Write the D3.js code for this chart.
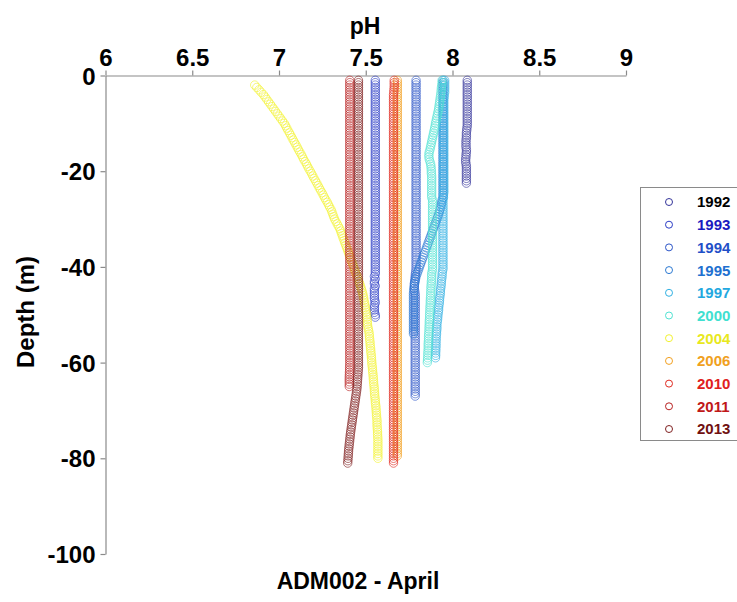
<!DOCTYPE html>
<html>
<head>
<meta charset="utf-8">
<script src="https://cdn.jsdelivr.net/npm/d3@7"></script>
<style>
  body { margin: 0; background: #fff; }
  text { font-family: Arial, "Liberation Sans", sans-serif; font-weight: bold; }
</style>
</head>
<body>
<script>
const w = 737
const h = 602

// depth bins (m), every half metre, shared by every profile
const depthGrid = [
  -1,-1.5,-2,-2.5,-3,-3.5,-4,-4.5,-5,-5.5,
  -6,-6.5,-7,-7.5,-8,-8.5,-9,-9.5,-10,-10.5,
  -11,-11.5,-12,-12.5,-13,-13.5,-14,-14.5,-15,-15.5,
  -16,-16.5,-17,-17.5,-18,-18.5,-19,-19.5,-20,-20.5,
  -21,-21.5,-22,-22.5,-23,-23.5,-24,-24.5,-25,-25.5,
  -26,-26.5,-27,-27.5,-28,-28.5,-29,-29.5,-30,-30.5,
  -31,-31.5,-32,-32.5,-33,-33.5,-34,-34.5,-35,-35.5,
  -36,-36.5,-37,-37.5,-38,-38.5,-39,-39.5,-40,-40.5,
  -41,-41.5,-42,-42.5,-43,-43.5,-44,-44.5,-45,-45.5,
  -46,-46.5,-47,-47.5,-48,-48.5,-49,-49.5,-50,-50.5,
  -51,-51.5,-52,-52.5,-53,-53.5,-54,-54.5,-55,-55.5,
  -56,-56.5,-57,-57.5,-58,-58.5,-59,-59.5,-60,-60.5,
  -61,-61.5,-62,-62.5,-63,-63.5,-64,-64.5,-65,-65.5,
  -66,-66.5,-67,-67.5,-68,-68.5,-69,-69.5,-70,-70.5,
  -71,-71.5,-72,-72.5,-73,-73.5,-74,-74.5,-75,-75.5,
  -76,-76.5,-77,-77.5,-78,-78.5,-79,-79.5,-80,-80.5,
  -81]

const years = ['1992','1993','1994','1995','1997','2000','2004','2006','2010','2011','2013']
const markerColors = ['#34349a','#2b3cc6','#2b55c8','#2a78d2','#30b0e2','#50e2d2','#f2f230','#f2a020','#e02a20','#b82020','#802020']
const textColors = ['#000000','#1a1ac0','#1f4fc8','#2070d0','#22a8e0','#40e0d0','#e8e820','#f0a020','#e02020','#c01818','#701010']

// pH per depth bin, one row = 5 m (null = no sample)
const ph1992 = [
  8.085,8.085,8.085,8.085,8.085,8.085,8.085,8.085,8.085,8.085,
  8.085,8.085,8.085,8.085,8.085,8.085,8.085,8.085,8.085,8.085,
  8.083,8.082,8.08,8.08,8.08,8.078,8.078,8.078,8.078,8.08,
  8.08,8.078,8.078,8.076,8.076,8.078,8.08,8.08,8.08,8.08,
  8.08,8.08,8.08,8.08]
const ph1993 = [
  7.555,7.555,7.555,7.555,7.555,7.555,7.555,7.555,7.555,7.555,
  7.555,7.555,7.555,7.555,7.555,7.555,7.555,7.555,7.555,7.555,
  7.555,7.555,7.555,7.555,7.555,7.555,7.555,7.555,7.555,7.555,
  7.555,7.555,7.555,7.555,7.555,7.555,7.555,7.555,7.555,7.555,
  7.555,7.555,7.555,7.555,7.555,7.555,7.555,7.555,7.555,7.555,
  7.555,7.555,7.555,7.555,7.555,7.555,7.555,7.555,7.555,7.555,
  7.555,7.555,7.555,7.555,7.555,7.555,7.555,7.555,7.555,7.555,
  7.555,7.555,7.555,7.555,7.555,7.555,7.555,7.555,7.555,7.555,
  7.555,7.555,7.55,7.555,7.55,7.55,7.555,7.55,7.55,7.55,
  7.55,7.55,7.552,7.555,7.55,7.55,7.55,7.55,7.555,7.555]
const ph1994 = [
  7.79,7.79,7.79,7.79,7.79,7.79,7.79,7.79,7.79,7.79,
  7.79,7.79,7.79,7.79,7.79,7.79,7.79,7.79,7.79,7.79,
  7.79,7.79,7.79,7.79,7.79,7.79,7.79,7.79,7.79,7.79,
  7.79,7.79,7.79,7.79,7.79,7.79,7.79,7.79,7.79,7.79,
  7.79,7.79,7.79,7.79,7.79,7.79,7.79,7.79,7.79,7.79,
  7.79,7.79,7.79,7.79,7.79,7.79,7.79,7.79,7.79,7.79,
  7.79,7.79,7.79,7.79,7.79,7.79,7.79,7.79,7.79,7.79,
  7.79,7.79,7.79,7.79,7.79,7.79,7.79,7.79,7.79,7.79,
  7.788,7.786,7.785,7.784,7.782,7.78,7.78,7.78,7.782,7.784,
  7.785,7.785,7.785,7.785,7.785,7.785,7.785,7.785,7.785,7.785,
  7.785,7.785,7.785,7.785,7.785,7.785,7.785,7.785,7.785,7.785,
  7.785,7.785,7.785,7.785,7.785,7.785,7.785,7.785,7.785,7.785,
  7.785,7.785,7.785,7.785,7.785,7.785,7.785,7.785,7.785,7.785,
  7.785,7.785,7.785]
const ph1995 = [
  7.945,7.945,7.945,7.945,7.945,7.945,7.945,7.945,7.945,7.945,
  7.945,7.945,7.945,7.945,7.945,7.945,7.945,7.945,7.945,7.945,
  7.945,7.945,7.945,7.945,7.945,7.945,7.945,7.945,7.945,7.945,
  7.945,7.945,7.945,7.945,7.945,7.945,7.945,7.945,7.945,7.945,
  7.945,7.945,7.945,7.945,7.945,7.945,7.945,7.945,7.945,7.945,
  7.94,7.938,7.935,7.932,7.928,7.924,7.92,7.915,7.91,7.905,
  7.9,7.895,7.89,7.885,7.88,7.875,7.87,7.865,7.86,7.855,
  7.85,7.845,7.84,7.835,7.83,7.825,7.82,7.815,7.81,7.805,
  7.8,7.795,7.79,7.787,7.785,7.782,7.78,7.778,7.776,7.775,
  7.775,7.775,7.775,7.775,7.775,7.775,7.775,7.775,7.775,7.775,
  7.775,7.775,7.775,7.775,7.775,7.775,7.775]
const ph1997 = [
  7.955,7.955,7.955,7.955,7.955,7.955,7.952,7.952,7.95,7.95,
  7.95,7.95,7.95,7.95,7.95,7.95,7.95,7.95,7.95,7.95,
  7.95,7.95,7.95,7.95,7.95,7.95,7.95,7.95,7.95,7.95,
  7.95,7.95,7.95,7.95,7.95,7.95,7.95,7.95,7.95,7.95,
  7.95,7.95,7.95,7.95,7.95,7.95,7.95,7.95,7.948,7.948,
  7.945,7.945,7.945,7.945,7.945,7.945,7.945,7.945,7.945,7.945,
  7.945,7.945,7.945,7.945,7.945,7.945,7.945,7.945,7.945,7.945,
  7.945,7.945,7.945,7.945,7.945,7.945,7.945,7.945,7.945,7.945,
  7.942,7.94,7.94,7.938,7.936,7.935,7.934,7.932,7.93,7.93,
  7.928,7.926,7.925,7.924,7.922,7.92,7.92,7.918,7.916,7.915,
  7.914,7.912,7.91,7.91,7.91,7.908,7.908,7.906,7.906,7.905,
  7.905,7.905,7.904,7.904,7.903,7.903,7.902]
const ph2000 = [
  7.94,7.94,7.938,7.936,7.935,7.934,7.932,7.93,7.928,7.926,
  7.924,7.922,7.92,7.917,7.914,7.911,7.908,7.905,7.902,7.9,
  7.897,7.894,7.891,7.888,7.885,7.882,7.879,7.876,7.873,7.87,
  7.866,7.864,7.864,7.866,7.87,7.874,7.876,7.877,7.878,7.878,
  7.88,7.88,7.88,7.88,7.88,7.88,7.88,7.88,7.88,7.88,
  7.885,7.885,7.885,7.885,7.885,7.885,7.885,7.885,7.885,7.885,
  7.885,7.885,7.885,7.885,7.885,7.885,7.885,7.885,7.885,7.885,
  7.885,7.885,7.885,7.885,7.885,7.885,7.885,7.885,7.885,7.885,
  7.882,7.88,7.88,7.88,7.878,7.878,7.876,7.876,7.875,7.875,
  7.874,7.873,7.872,7.872,7.871,7.87,7.87,7.869,7.868,7.868,
  7.867,7.866,7.866,7.865,7.865,7.864,7.863,7.862,7.862,7.861,
  7.86,7.86,7.86,7.859,7.858,7.858,7.857,7.856,7.855]
const ph2004 = [
  null,null,6.86,6.872,6.885,6.897,6.91,6.92,6.93,6.94,
  6.95,6.96,6.97,6.98,6.99,7.0,7.01,7.02,7.03,7.038,
  7.045,7.052,7.06,7.068,7.075,7.082,7.09,7.098,7.105,7.112,
  7.12,7.128,7.135,7.142,7.15,7.158,7.165,7.172,7.18,7.188,
  7.195,7.202,7.21,7.218,7.225,7.232,7.24,7.248,7.255,7.262,
  7.27,7.278,7.285,7.292,7.3,7.305,7.31,7.315,7.32,7.328,
  7.335,7.342,7.35,7.355,7.36,7.365,7.37,7.375,7.38,7.385,
  7.39,7.395,7.4,7.405,7.41,7.415,7.42,7.425,7.43,7.435,
  7.44,7.445,7.45,7.455,7.46,7.465,7.47,7.474,7.478,7.482,
  7.485,7.488,7.49,7.493,7.495,7.498,7.5,7.502,7.505,7.506,
  7.508,7.509,7.51,7.512,7.515,7.518,7.52,7.521,7.522,7.524,
  7.525,7.526,7.528,7.529,7.53,7.532,7.533,7.534,7.535,7.536,
  7.538,7.539,7.54,7.542,7.543,7.544,7.545,7.546,7.548,7.549,
  7.55,7.551,7.552,7.554,7.555,7.556,7.558,7.559,7.56,7.561,
  7.562,7.563,7.565,7.565,7.565,7.566,7.567,7.568,7.568,7.569,
  7.57,7.57,7.57,7.57,7.57,7.57,7.57,7.57,7.57]
const ph2006 = [
  7.682,7.682,7.682,7.682,7.682,7.682,7.682,7.682,7.682,7.682,
  7.682,7.682,7.682,7.682,7.682,7.682,7.682,7.682,7.682,7.682,
  7.682,7.682,7.682,7.682,7.682,7.682,7.682,7.682,7.682,7.682,
  7.682,7.682,7.682,7.682,7.682,7.682,7.682,7.682,7.682,7.682,
  7.682,7.682,7.682,7.682,7.682,7.682,7.682,7.682,7.682,7.682,
  7.682,7.682,7.682,7.682,7.682,7.682,7.682,7.682,7.682,7.682,
  7.682,7.682,7.682,7.682,7.682,7.682,7.682,7.682,7.682,7.682,
  7.682,7.682,7.682,7.682,7.682,7.682,7.682,7.682,7.682,7.682,
  7.682,7.682,7.682,7.682,7.682,7.682,7.682,7.682,7.682,7.682,
  7.682,7.682,7.682,7.682,7.682,7.682,7.682,7.682,7.682,7.682,
  7.682,7.682,7.682,7.682,7.682,7.682,7.682,7.682,7.682,7.682,
  7.682,7.682,7.682,7.682,7.682,7.682,7.682,7.682,7.682,7.682,
  7.682,7.682,7.682,7.682,7.682,7.682,7.682,7.682,7.682,7.682,
  7.682,7.682,7.682,7.682,7.682,7.682,7.682,7.682,7.682,7.682,
  7.682,7.682,7.682,7.682,7.682,7.682,7.682,7.682,7.682,7.682,
  7.682,7.682,7.682,7.682,7.682,7.682,7.682,7.682]
const ph2010 = [
  7.664,7.664,7.664,7.664,7.662,7.662,7.66,7.66,7.66,7.66,
  7.66,7.66,7.66,7.66,7.66,7.66,7.66,7.66,7.66,7.66,
  7.66,7.66,7.66,7.66,7.66,7.66,7.66,7.66,7.66,7.66,
  7.66,7.66,7.66,7.66,7.66,7.66,7.66,7.66,7.66,7.66,
  7.66,7.66,7.66,7.66,7.66,7.66,7.66,7.66,7.66,7.66,
  7.66,7.66,7.66,7.66,7.66,7.66,7.66,7.66,7.66,7.66,
  7.66,7.66,7.66,7.66,7.66,7.66,7.66,7.66,7.66,7.66,
  7.66,7.66,7.66,7.66,7.66,7.66,7.66,7.66,7.66,7.66,
  7.66,7.66,7.66,7.66,7.66,7.66,7.66,7.66,7.66,7.66,
  7.66,7.66,7.66,7.66,7.66,7.66,7.66,7.66,7.66,7.66,
  7.66,7.66,7.66,7.66,7.66,7.66,7.66,7.66,7.66,7.66,
  7.66,7.66,7.66,7.66,7.66,7.66,7.66,7.66,7.66,7.66,
  7.66,7.66,7.66,7.66,7.66,7.66,7.66,7.66,7.66,7.66,
  7.66,7.66,7.66,7.66,7.66,7.66,7.66,7.66,7.66,7.66,
  7.66,7.66,7.66,7.66,7.66,7.66,7.66,7.66,7.66,7.66,
  7.66,7.66,7.66,7.66,7.66,7.66,7.66,7.66,7.66,7.66,
  7.66]
const ph2011 = [
  7.408,7.408,7.408,7.408,7.408,7.408,7.408,7.408,7.408,7.408,
  7.408,7.408,7.408,7.408,7.408,7.408,7.408,7.408,7.408,7.408,
  7.408,7.408,7.408,7.408,7.408,7.408,7.408,7.408,7.408,7.408,
  7.408,7.408,7.408,7.408,7.408,7.408,7.408,7.408,7.408,7.408,
  7.408,7.408,7.408,7.408,7.408,7.408,7.408,7.408,7.408,7.408,
  7.408,7.408,7.408,7.408,7.408,7.408,7.408,7.408,7.408,7.408,
  7.408,7.408,7.408,7.408,7.408,7.408,7.408,7.408,7.408,7.408,
  7.408,7.408,7.408,7.408,7.408,7.408,7.408,7.408,7.408,7.408,
  7.408,7.408,7.408,7.408,7.408,7.408,7.408,7.408,7.408,7.408,
  7.408,7.408,7.408,7.408,7.408,7.408,7.408,7.408,7.408,7.408,
  7.408,7.408,7.408,7.408,7.408,7.408,7.408,7.408,7.408,7.408,
  7.408,7.408,7.408,7.408,7.408,7.408,7.408,7.408,7.408,7.408,
  7.407,7.407,7.406,7.406,7.405,7.405,7.405,7.405,7.405]
const ph2013 = [
  7.458,7.458,7.458,7.458,7.458,7.458,7.458,7.458,7.458,7.458,
  7.458,7.458,7.458,7.458,7.458,7.458,7.458,7.458,7.458,7.458,
  7.458,7.458,7.458,7.458,7.458,7.458,7.458,7.458,7.458,7.458,
  7.458,7.458,7.458,7.458,7.458,7.458,7.458,7.458,7.458,7.458,
  7.458,7.458,7.458,7.458,7.458,7.458,7.458,7.458,7.458,7.458,
  7.458,7.458,7.458,7.458,7.458,7.458,7.458,7.458,7.458,7.458,
  7.458,7.458,7.458,7.458,7.458,7.458,7.458,7.458,7.458,7.458,
  7.458,7.458,7.458,7.458,7.458,7.458,7.458,7.458,7.458,7.458,
  7.458,7.458,7.458,7.458,7.458,7.458,7.458,7.458,7.458,7.458,
  7.458,7.458,7.458,7.458,7.458,7.458,7.458,7.458,7.458,7.458,
  7.458,7.458,7.458,7.458,7.458,7.458,7.458,7.458,7.458,7.458,
  7.458,7.458,7.458,7.458,7.458,7.458,7.458,7.458,7.458,7.458,
  7.458,7.457,7.456,7.455,7.454,7.453,7.452,7.451,7.45,7.449,
  7.447,7.445,7.443,7.441,7.439,7.437,7.435,7.433,7.431,7.429,
  7.427,7.425,7.423,7.421,7.419,7.417,7.415,7.413,7.411,7.41,
  7.408,7.407,7.405,7.404,7.402,7.401,7.4,7.399,7.398,7.397,
  7.396]

const profiles = [ph1992, ph1993, ph1994, ph1995, ph1997, ph2000, ph2004, ph2006, ph2010, ph2011, ph2013]

const xTicks = [6, 6.5, 7, 7.5, 8, 8.5, 9]
const yTicks = [0, -20, -40, -60, -80, -100]

const svg = d3.select('body')
  .append('svg')
  .attr('width', w)
  .attr('height', h)

svg.append('rect')
  .attr('width', w)
  .attr('height', h)
  .attr('fill', '#fff')

const xScale = d3.scaleLinear()
  .domain([6, 9])
  .range([105.5, 626])

const yScale = d3.scaleLinear()
  .domain([0, -100])
  .range([75.5, 554])

// plain hyphen for negatives, like the original
const tickFmt = function (d) { return String(d) }

const xAxisGen = d3.axisTop(xScale)
  .tickValues(xTicks)
  .tickFormat(tickFmt)
  .tickSize(5)
  .tickSizeOuter(0)
  .tickPadding(5)

const yAxisGen = d3.axisLeft(yScale)
  .tickValues(yTicks)
  .tickFormat(tickFmt)
  .tickSize(5)
  .tickSizeOuter(0)
  .tickPadding(5)

const xAxis = svg.append('g')
  .attr('class', 'x-axis')
  .attr('transform', 'translate(0,75.5)')
  .call(xAxisGen)

const yAxis = svg.append('g')
  .attr('class', 'y-axis')
  .attr('transform', 'translate(105.5,0)')
  .call(yAxisGen)

svg.selectAll('.x-axis path, .y-axis path, .x-axis line, .y-axis line')
  .attr('stroke', '#8a8a8a')
  .attr('stroke-width', 1.2)

svg.selectAll('.x-axis text, .y-axis text')
  .attr('fill', '#000')
  .style('font-size', '24px')
  .style('font-family', 'Arial, "Liberation Sans", sans-serif')
  .style('font-weight', 'bold')

yAxis.selectAll('text').attr('dy', '0.36em')

// profiles, drawn oldest first so newer years sit on top
profiles.forEach(function (values, i) {
  const pts = values
    .map(function (v, j) { return { ph: v, depth: depthGrid[j] } })
    .filter(function (d) { return d.ph !== null })

  svg.append('g')
    .attr('class', `series-${years[i]}`)
    .selectAll('circle')
    .data(pts)
    .enter()
    .append('circle')
    .attr('cx', function (d) { return xScale(d.ph) })
    .attr('cy', function (d) { return yScale(d.depth) })
    .attr('r', 4.2)
    .attr('fill', 'none')
    .attr('stroke', markerColors[i])
    .attr('stroke-width', 0.9)
    .attr('stroke-opacity', 0.7)
})

// titles
svg.append('text')
  .attr('x', 365)
  .attr('y', 34)
  .attr('text-anchor', 'middle')
  .style('font-size', '23px')
  .text('pH')

svg.append('text')
  .attr('transform', 'translate(34,312) rotate(-90)')
  .attr('text-anchor', 'middle')
  .style('font-size', '24px')
  .text('Depth (m)')

svg.append('text')
  .attr('x', 358)
  .attr('y', 589)
  .attr('text-anchor', 'middle')
  .style('font-size', '23px')
  .text('ADM002 - April')

// legend
const legend = svg.append('g')
  .attr('class', 'legend')

legend.append('rect')
  .attr('x', 640.5)
  .attr('y', 187.5)
  .attr('width', 110)
  .attr('height', 253)
  .attr('fill', '#fff')
  .attr('stroke', '#8a8a8a')
  .attr('stroke-width', 1)

const legendY = d3.scalePoint()
  .domain(years)
  .range([202, 429])

legend.selectAll('circle')
  .data(years)
  .enter()
  .append('circle')
  .attr('cx', 669)
  .attr('cy', function (d) { return legendY(d) })
  .attr('r', 3.5)
  .attr('fill', 'none')
  .attr('stroke', function (d, i) { return markerColors[i] })
  .attr('stroke-width', 1)

legend.selectAll('text')
  .data(years)
  .enter()
  .append('text')
  .attr('x', 697)
  .attr('y', function (d) { return legendY(d) })
  .attr('dy', '0.36em')
  .attr('fill', function (d, i) { return textColors[i] })
  .style('font-size', '15px')
  .text(function (d) { return d })
</script>
</body>
</html>
